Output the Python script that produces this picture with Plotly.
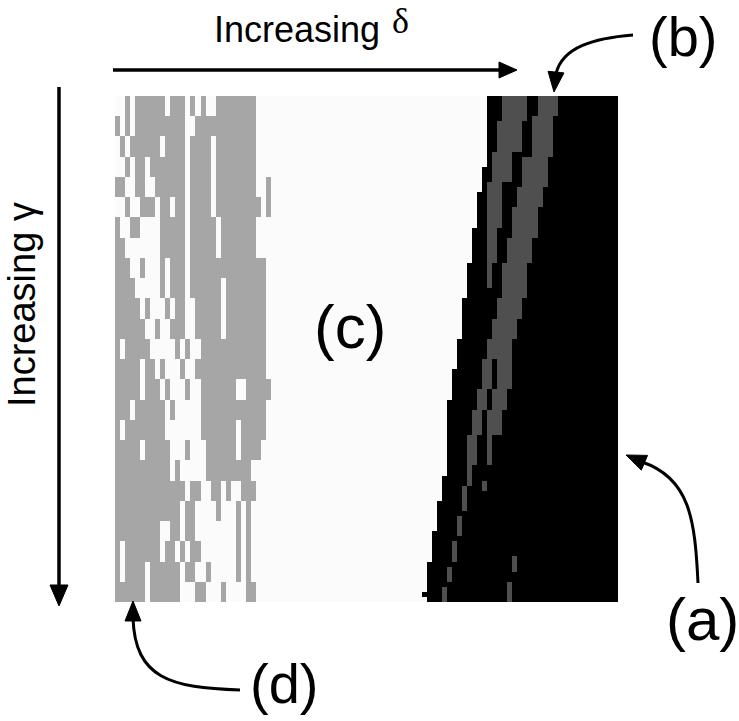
import numpy as np
import plotly.graph_objects as go

W, H = 739, 721
N_ROWS, N_COLS = 100, 100
ROWS_PER_BAND = 4

# region (d) pattern: '#' = grey (d), '.' = white (c); one string per band of 4 rows, columns 0..31
left_bands = [
    "..#.######.###.#.#..########....",
    "#.#.##########..############....",
    ".#.######.####.####.########....",
    "..#.##.#######.####.########....",
    "##..##..######.####.########..#.",
    "..#..###.##.##.####.#########.#.",
    "#..##....#####.#####.#######....",
    "##.......#####.#####.#######....",
    "###..#...#.###.###############..",
    "####.....#.###.######.########..",
    "#####.#...#.##..#####.########..",
    "######..#..###..#####.########..",
    "#.#####.....#.#..#############..",
    "#####.##.#...#..##############..",
    "#####.###.#...#..#######..#####.",
    "###.######.#.....#############..",
    "#.########.......#######.#####..",
    "#####.#####...#...######.####...",
    "###########.#.....#########.....",
    "##############.##..##.#..###....",
    "#############.##....#...#.#.....",
    "#########..##.##........#.#.....",
    "#.#######.##.#.##.......#.#.....",
    "#.####.######.##..#.....#.#.....",
    "######.######...##...#....##....",
]

# region (a): first black column per group of rows
edge_row = [0, 14, 19, 26, 33, 40, 48, 54, 60, 75, 80, 86, 92]
edge_col = [74, 73, 72, 71, 70, 69, 68, 67, 66, 65, 64, 63, 62]
extra_black_row = [98]
extra_black_col = [61]

# region (b): dark grey runs (row start, row end exclusive, first col, last col)
b_r0 = [0, 5, 11, 17, 26, 33, 0, 4, 12, 18, 22, 28, 33, 40, 44, 48, 52, 52, 58, 58, 62, 62, 67, 67, 73, 76, 77, 83, 88, 93, 97, 91, 96]
b_r1 = [5, 11, 17, 26, 33, 38, 4, 12, 18, 22, 28, 33, 40, 44, 48, 52, 58, 58, 62, 62, 67, 67, 73, 73, 77, 78, 82, 87, 92, 96, 100, 94, 100]
b_c0 = [77, 76, 75, 74, 74, 74, 84, 83, 81, 80, 79, 78, 77, 76, 75, 74, 73, 76, 72, 75, 71, 74, 70, 74, 70, 73, 69, 68, 67, 66, 65, 79, 78]
b_c1 = [81, 80, 78, 76, 75, 74, 87, 86, 85, 84, 83, 82, 81, 80, 79, 78, 74, 78, 73, 77, 72, 76, 71, 74, 70, 73, 69, 68, 67, 66, 65, 79, 78]

z = np.zeros((N_ROWS, N_COLS), dtype=int)
for b, s in enumerate(left_bands):
    for r in range(b * ROWS_PER_BAND, (b + 1) * ROWS_PER_BAND):
        for c, ch in enumerate(s):
            if ch == "#":
                z[r, c] = 1
for i, r0 in enumerate(edge_row):
    r1 = edge_row[i + 1] if i + 1 < len(edge_row) else N_ROWS
    z[r0:r1, edge_col[i]:] = 3
for r, c in zip(extra_black_row, extra_black_col):
    z[r, c] = 3
for r0, r1, c0, c1 in zip(b_r0, b_r1, b_c0, b_c1):
    z[r0:r1, c0:c1 + 1] = 2

colorscale = [
    [0.0, "#fbfbfb"], [1 / 6, "#fbfbfb"],
    [1 / 6, "#a6a6a6"], [0.5, "#a6a6a6"],
    [0.5, "#4f4f4f"], [5 / 6, "#4f4f4f"],
    [5 / 6, "#000000"], [1.0, "#000000"],
]

fig = go.Figure(go.Heatmap(
    z=z, x=list(range(N_COLS)), y=list(range(N_ROWS)),
    colorscale=colorscale, zmin=0, zmax=3, showscale=False,
    hoverinfo="skip",
))

X0, X1, Y0, Y1 = 115, 618, 96, 602


def px(x):
    return x / W


def py(y):
    return 1 - y / H


def path(points, close=False, cmd="L"):
    s = "M %.5f %.5f" % (px(points[0][0]), py(points[0][1]))
    for p in points[1:]:
        s += " %s %.5f %.5f" % (cmd, px(p[0]), py(p[1]))
    if close:
        s += " Z"
    return s


def curve(p0, c1, c2, p3):
    return "M %.5f %.5f C %.5f %.5f %.5f %.5f %.5f %.5f" % (
        px(p0[0]), py(p0[1]), px(c1[0]), py(c1[1]), px(c2[0]), py(c2[1]), px(p3[0]), py(p3[1]))


def head(tip, frm, length=18, half=8):
    dx, dy = tip[0] - frm[0], tip[1] - frm[1]
    n = (dx * dx + dy * dy) ** 0.5
    ux, uy = dx / n, dy / n
    bx, by = tip[0] - ux * length, tip[1] - uy * length
    return path([tip, (bx - uy * half, by + ux * half), (bx + uy * half, by - ux * half)], close=True)


shapes = []
line = dict(color="black", width=3.5)
# horizontal arrow
shapes.append(dict(type="path", xref="paper", yref="paper", path=path([(113, 70), (500, 70)]), line=line))
shapes.append(dict(type="path", xref="paper", yref="paper", path=head((517, 70), (500, 70)), fillcolor="black", line=dict(color="black", width=1)))
# vertical arrow
shapes.append(dict(type="path", xref="paper", yref="paper", path=path([(59, 87), (59, 590)]), line=line))
shapes.append(dict(type="path", xref="paper", yref="paper", path=head((59, 606), (59, 590), 21, 9), fillcolor="black", line=dict(color="black", width=1)))
# (b) arrow
shapes.append(dict(type="path", xref="paper", yref="paper", path=curve((633, 35), (595, 38), (562, 47), (556, 74)), line=dict(color="black", width=3)))
shapes.append(dict(type="path", xref="paper", yref="paper", path=head((554, 92), (556, 72), 20, 8), fillcolor="black", line=dict(color="black", width=1)))
# (a) arrow
shapes.append(dict(type="path", xref="paper", yref="paper", path=curve((698, 583), (695, 520), (690, 478), (642, 462)), line=dict(color="black", width=3)))
shapes.append(dict(type="path", xref="paper", yref="paper", path=head((626, 455), (645, 463), 20, 8), fillcolor="black", line=dict(color="black", width=1)))
# (d) arrow
shapes.append(dict(type="path", xref="paper", yref="paper", path=curve((240, 690), (170, 688), (135, 678), (133, 618)), line=dict(color="black", width=3)))
shapes.append(dict(type="path", xref="paper", yref="paper", path=head((133, 601), (133, 620), 20, 8), fillcolor="black", line=dict(color="black", width=1)))

FONT = "Liberation Sans, Arial, sans-serif"


def ann(text, x, y, size, family=FONT, angle=0):
    return dict(text=text, x=px(x), y=py(y), xref="paper", yref="paper", showarrow=False,
                xanchor="center", yanchor="middle", textangle=angle,
                font=dict(family=family, size=size, color="black"))


annotations = [
    ann("Increasing", 297, 30, 36),
    ann("δ", 400, 21, 36, family="Liberation Serif, serif"),
    ann("Increasing γ", 22, 305, 38, angle=-90),
    ann("(b)", 683, 37, 56),
    ann("(c)", 350, 326, 62),
    ann("(a)", 702, 619, 60),
    ann("(d)", 284, 683, 56),
]

fig.update_layout(
    width=W, height=H, margin=dict(l=0, r=0, t=0, b=0),
    paper_bgcolor="white", plot_bgcolor="white",
    xaxis=dict(domain=[px(X0), px(X1)], range=[-0.5, N_COLS - 0.5], visible=False, fixedrange=True),
    yaxis=dict(domain=[py(Y1), py(Y0)], range=[N_ROWS - 0.5, -0.5], visible=False, fixedrange=True),
    shapes=shapes, annotations=annotations, showlegend=False,
)

fig.write_html("out.html")
